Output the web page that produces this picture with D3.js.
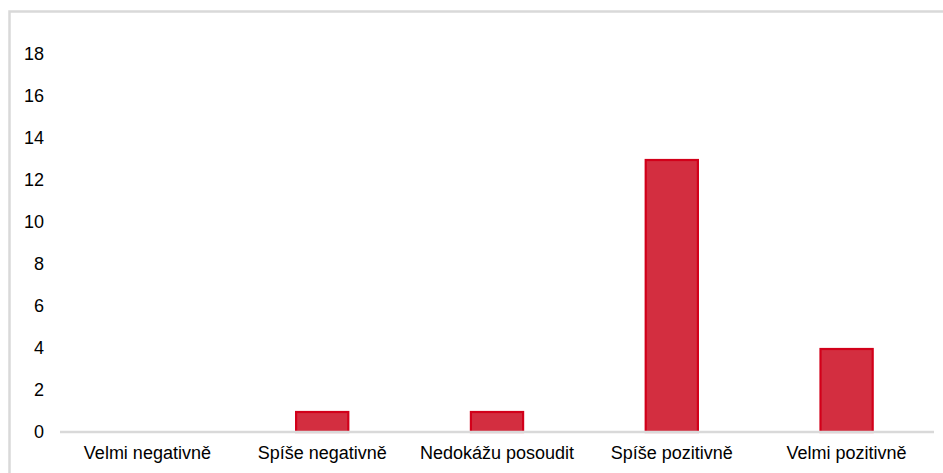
<!DOCTYPE html>
<html>
<head>
<meta charset="utf-8">
<script src="https://cdn.jsdelivr.net/npm/d3@7"></script>
<style>
  html, body { margin: 0; padding: 0; background: #fff; }
  svg { display: block; }
  text { font-family: "Liberation Sans", Arial, sans-serif; fill: #000; }
</style>
</head>
<body>
<script>
// Answer categories and counts
const categories = ["Velmi negativně", "Spíše negativně", "Nedokážu posoudit", "Spíše pozitivně", "Velmi pozitivně"];
const counts = [0, 1, 1, 13, 4];
const yTicks = [0, 2, 4, 6, 8, 10, 12, 14, 16, 18];

const W = 943, H = 473;
const svg = d3.select("body").append("svg").attr("width", W).attr("height", H);

// Outer frame (top and left edges visible)
svg.append("rect")
  .attr("x", 9.5).attr("y", 11.5)
  .attr("width", W + 20).attr("height", H + 20)
  .attr("fill", "none").attr("stroke", "#d9d9d9").attr("stroke-width", 2.5);

const plot = { left: 60, right: 934, top: 54, bottom: 432 };

const x = d3.scaleBand().domain(categories).range([plot.left, plot.right]).paddingInner(0).paddingOuter(0);
const y = d3.scaleLinear().domain([0, 18]).range([plot.bottom, plot.top]);

const barW = x.bandwidth() * 0.31;

// Bars
svg.append("g").selectAll("rect").data(categories.map((c, i) => ({ c, v: counts[i] })).filter(d => d.v > 0))
  .join("rect")
  .attr("x", d => x(d.c) + x.bandwidth() / 2 - barW / 2 + 1)
  .attr("width", barW - 2)
  .attr("y", d => y(d.v) + 1)
  .attr("height", d => y(0) - y(d.v) - 1)
  .attr("fill", "#d32e40")
  .attr("stroke", "#d2001a")
  .attr("stroke-width", 2.2);

// Y axis: labels only
const yAxis = d3.axisLeft(y).tickValues(yTicks).tickSize(0).tickPadding(0);
const gy = svg.append("g").attr("transform", `translate(${44},0)`).call(yAxis);
gy.select(".domain").remove();
gy.selectAll("text").attr("font-size", 18).attr("fill", "#000")
  .attr("font-family", "'Liberation Sans', Arial, sans-serif").attr("dy", "0.33em");

// X axis line and category labels
const xAxis = d3.axisBottom(x).tickSize(0).tickPadding(0);
const gx = svg.append("g").attr("transform", `translate(0,${plot.bottom})`).call(xAxis);
gx.select(".domain").attr("stroke", "#d9d9d9").attr("stroke-width", 2.5)
  .attr("d", `M${plot.left},0H${plot.right}`);
gx.selectAll("text").attr("font-size", 18).attr("fill", "#000")
  .attr("font-family", "'Liberation Sans', Arial, sans-serif")
  .attr("dy", null).attr("y", 27);
</script>
</body>
</html>
